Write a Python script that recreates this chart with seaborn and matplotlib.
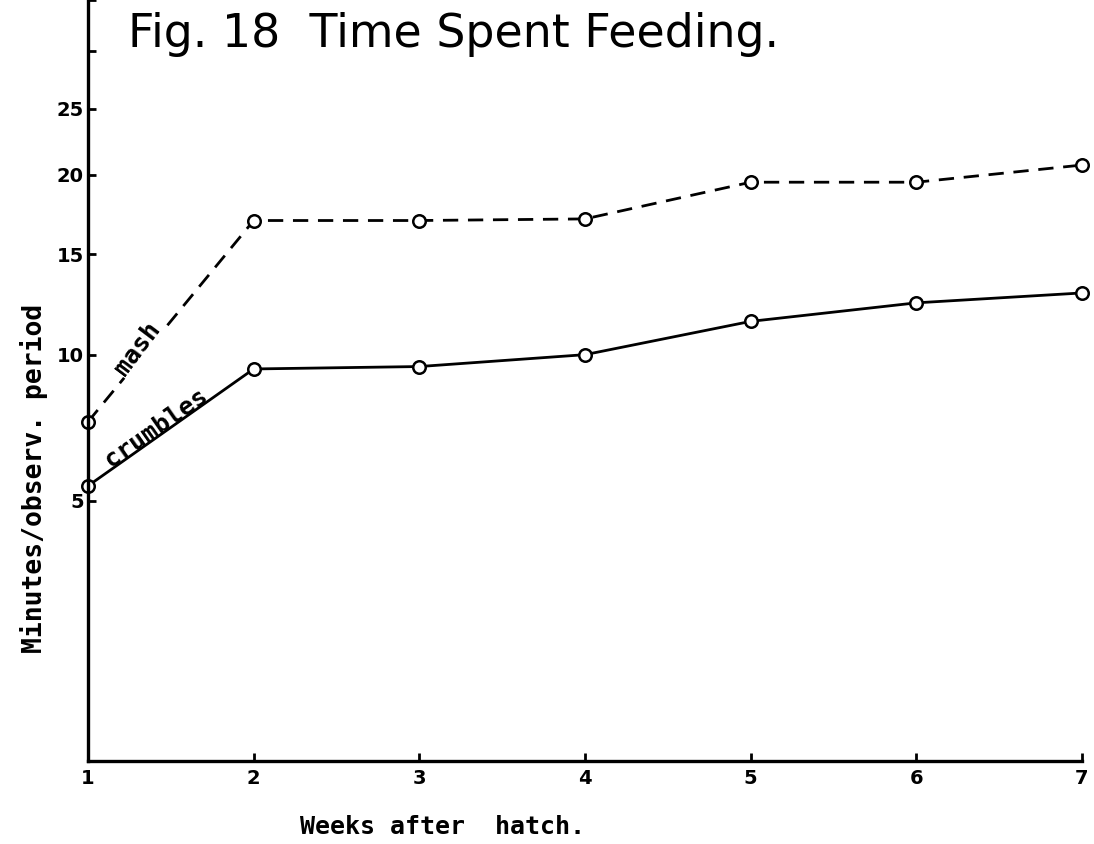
import numpy as np
import pandas as pd
import matplotlib
matplotlib.use('Agg')
import matplotlib.pyplot as plt
import seaborn as sns

# values
weeks = [1, 2, 3, 4, 5, 6, 7]
mash = [7.4, 17.0, 17.0, 17.1, 19.5, 19.5, 20.7]
crumbles = [5.4, 9.4, 9.5, 10.0, 11.5, 12.4, 12.9]
y_ticks = [5, 10, 15, 20, 25, 30, 35]
y_tick_labels = ['5', '10', '15', '20', '25', '', '']

df = pd.DataFrame({
    'week': weeks * 2,
    'minutes': mash + crumbles,
    'diet': ['mash'] * 7 + ['crumbles'] * 7,
})

sns.set_style('ticks')
plt.rcParams['font.family'] = ['DejaVu Sans']
plt.rcParams['text.color'] = 'black'
plt.rcParams['axes.labelcolor'] = 'black'

fig, ax = plt.subplots(figsize=(10.94, 8.44), dpi=100)
fig.subplots_adjust(left=88 / 1094, right=1082 / 1094, bottom=83 / 844, top=1.0)

# the hand drawn y axis is compressed upwards, close to a y**0.3 scale
def fwd(v):
    return np.power(np.clip(v, 1e-9, None), 0.3)

def inv(t):
    return np.power(np.clip(t, 0, None), 1 / 0.3)

ax.set_yscale('function', functions=(fwd, inv))

sns.lineplot(data=df, x='week', y='minutes', style='diet', ax=ax,
             color='black', linewidth=2.0, legend=False,
             markers={'mash': 'o', 'crumbles': 'o'},
             dashes={'mash': (5.5, 3.5), 'crumbles': ''},
             markersize=9, markerfacecolor='white',
             markeredgecolor='black', markeredgewidth=1.8, clip_on=False)

ax.set_xlim(1, 7)
ax.set_ylim(0.85, 35)
ax.set_xticks(weeks)
ax.set_xticklabels([str(w) for w in weeks])
ax.set_yticks(y_ticks)
ax.set_yticklabels(y_tick_labels)
ax.minorticks_off()

sns.despine(ax=ax)
for side in ['left', 'bottom']:
    ax.spines[side].set_linewidth(2.4)
    ax.spines[side].set_color('black')

ax.tick_params(axis='both', direction='in', length=6, width=2, color='black',
               labelsize=14, labelcolor='black')
ax.tick_params(axis='x', pad=6)
ax.tick_params(axis='y', pad=3)
for lab in ax.get_xticklabels() + ax.get_yticklabels():
    lab.set_fontweight('bold')

ax.set_xlabel('Weeks after  hatch.', fontsize=18, family='DejaVu Sans Mono',
              fontweight='bold', va='baseline', color='black')
ax.xaxis.set_label_coords(0.357, -0.096)
ax.set_ylabel('Minutes/observ. period', fontsize=19, family='DejaVu Sans Mono',
              fontweight='bold', color='black')
ax.yaxis.set_label_coords(-0.040, 0.371)

# line labels written along the lines
ax.text(1.41, 7.18, 'crumbles', rotation=35, rotation_mode='anchor',
        ha='center', va='center', fontsize=18, family='DejaVu Sans Mono',
        fontweight='bold', color='black')
ax.text(1.30, 10.25, 'mash', rotation=53, rotation_mode='anchor',
        ha='center', va='center', fontsize=18, family='DejaVu Sans Mono',
        fontweight='bold', color='black',
        bbox=dict(boxstyle='square,pad=0.05', fc='white', ec='none'))

fig.text(128 / 1094, 1 - 47 / 844, 'Fig. 18  Time Spent Feeding.',
         fontsize=33, family='DejaVu Sans', color='black',
         va='baseline', ha='left')

fig.savefig('out.png', dpi=100)
